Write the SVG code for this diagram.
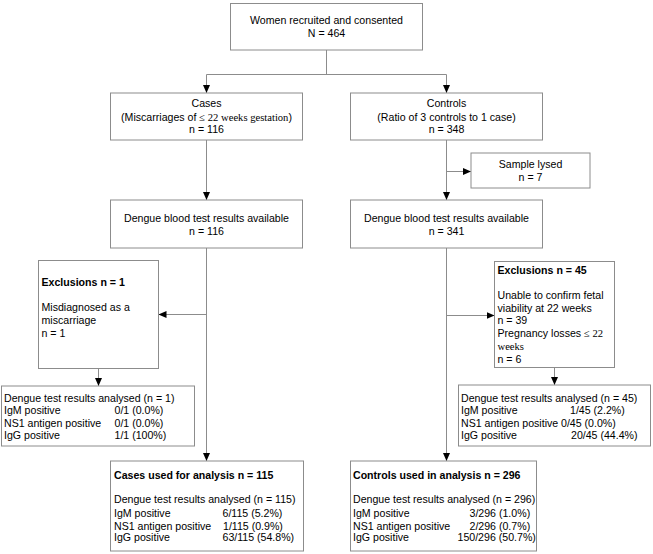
<svg xmlns="http://www.w3.org/2000/svg" width="653" height="554" viewBox="0 0 653 554">
<defs>
<style>
.box{fill:#fff;stroke:#8c8c8c;stroke-width:1}
.ln{fill:none;stroke:#8c8c8c;stroke-width:1}
.t{font-family:"Liberation Sans",Arial,sans-serif;font-size:10.6px;fill:#000}
.c{text-anchor:middle}
.b{font-weight:bold}
.s{font-family:"Liberation Serif","Times New Roman",serif}
</style>
<marker id="ah" markerUnits="userSpaceOnUse" viewBox="0 0 8 7" refX="8" refY="3.5" markerWidth="8" markerHeight="7" orient="auto">
<path d="M0,0 L8,3.5 L0,7 z" fill="#000"/>
</marker>
</defs>
<rect width="653" height="554" fill="#fff"/>
<g id="connectors">
<path class="ln" d="M326.5,50 V74.5 M206.5,74.5 H446.5"/>
<path class="ln" d="M206.5,74.5 V93" marker-end="url(#ah)"/>
<path class="ln" d="M446.5,74.5 V93" marker-end="url(#ah)"/>
<path class="ln" d="M206.5,140 V200" marker-end="url(#ah)"/>
<path class="ln" d="M446.5,140 V200" marker-end="url(#ah)"/>
<path class="ln" d="M446.5,171.5 H471" marker-end="url(#ah)"/>
<path class="ln" d="M206.5,248 V461" marker-end="url(#ah)"/>
<path class="ln" d="M206.5,314.5 H158.5" marker-end="url(#ah)"/>
<path class="ln" d="M98.5,368.5 V386" marker-end="url(#ah)"/>
<path class="ln" d="M446.5,248 V461" marker-end="url(#ah)"/>
<path class="ln" d="M446.5,315.5 H494.5" marker-end="url(#ah)"/>
<path class="ln" d="M554.5,367.5 V385" marker-end="url(#ah)"/>
</g>
<g id="women">
<rect class="box" x="230.5" y="3.5" width="192" height="46.5"/>
<text class="t c" x="326.5" y="24">Women recruited and consented</text>
<text class="t c" x="326.5" y="37">N = 464</text>
</g>
<g id="cases">
<rect class="box" x="110.5" y="93" width="192" height="47"/>
<text class="t c" x="206.5" y="107">Cases</text>
<text class="t c" x="206.5" y="120.5">(Miscarriages of <tspan class="s">≤ 22 weeks gestation</tspan>)</text>
<text class="t c" x="206.5" y="133">n = 116</text>
</g>
<g id="controls">
<rect class="box" x="350.5" y="93" width="192" height="47"/>
<text class="t c" x="446.5" y="107">Controls</text>
<text class="t c" x="446.5" y="120.5">(Ratio of 3 controls to 1 case)</text>
<text class="t c" x="446.5" y="133">n = 348</text>
</g>
<g id="lysed">
<rect class="box" x="471" y="153" width="119" height="35"/>
<text class="t c" x="530.5" y="168">Sample lysed</text>
<text class="t c" x="530.5" y="181">n = 7</text>
</g>
<g id="dengue-cases">
<rect class="box" x="110.5" y="200" width="192" height="48"/>
<text class="t c" x="206.5" y="221.5">Dengue blood test results available</text>
<text class="t c" x="206.5" y="234.5">n = 116</text>
</g>
<g id="dengue-controls">
<rect class="box" x="350.5" y="200" width="192" height="48"/>
<text class="t c" x="446.5" y="221.5">Dengue blood test results available</text>
<text class="t c" x="446.5" y="234.5">n = 341</text>
</g>
<g id="excl-cases">
<rect class="box" x="38.5" y="260.5" width="120" height="108"/>
<text class="t b" x="41.5" y="285.5">Exclusions n = 1</text>
<text class="t" x="41.5" y="311">Misdiagnosed as a</text>
<text class="t" x="41.5" y="324">miscarriage</text>
<text class="t" x="41.5" y="337">n = 1</text>
</g>
<g id="excl-controls">
<rect class="box" x="494.5" y="261.5" width="120" height="106"/>
<text class="t b" x="497.5" y="273.5">Exclusions n = 45</text>
<text class="t" x="497.5" y="299">Unable to confirm fetal</text>
<text class="t" x="497.5" y="311.5">viability at 22 weeks</text>
<text class="t" x="497.5" y="324">n = 39</text>
<text class="t" x="497.5" y="337">Pregnancy losses <tspan class="s">≤ 22</tspan></text>
<text class="t s" x="497.5" y="350">weeks</text>
<text class="t" x="497.5" y="362.5">n = 6</text>
</g>
<g id="analysed-excl-cases">
<rect class="box" x="1.5" y="386" width="193" height="60"/>
<text class="t" x="4" y="401.5">Dengue test results analysed (n = 1)</text>
<text class="t" x="4" y="413.5">IgM positive</text>
<text class="t" x="114.5" y="413.5">0/1 (0.0%)</text>
<text class="t" x="4" y="426.5">NS1 antigen positive</text>
<text class="t" x="114.5" y="426.5">0/1 (0.0%)</text>
<text class="t" x="4" y="438.5">IgG positive</text>
<text class="t" x="114.5" y="438.5">1/1 (100%)</text>
</g>
<g id="analysed-excl-controls">
<rect class="box" x="458.5" y="385" width="192" height="61"/>
<text class="t" x="461" y="401.5">Dengue test results analysed (n = 45)</text>
<text class="t" x="461" y="413.5">IgM positive</text>
<text class="t" x="570" y="413.5">1/45 (2.2%)</text>
<text class="t" x="461" y="426.5">NS1 antigen positive</text>
<text class="t" x="561" y="426.5">0/45 (0.0%)</text>
<text class="t" x="461" y="438.5">IgG positive</text>
<text class="t" x="571" y="438.5">20/45 (44.4%)</text>
</g>
<g id="cases-used">
<rect class="box" x="110.5" y="461" width="193" height="90"/>
<text class="t b" x="114" y="478.5">Cases used for analysis n = 115</text>
<text class="t" x="114" y="503">Dengue test results analysed (n = 115)</text>
<text class="t" x="114" y="516.5">IgM positive</text>
<text class="t" x="222.5" y="516.5">6/115 (5.2%)</text>
<text class="t" x="114" y="529.5">NS1 antigen positive</text>
<text class="t" x="223" y="529.5">1/115 (0.9%)</text>
<text class="t" x="114" y="541">IgG positive</text>
<text class="t" x="222.5" y="541">63/115 (54.8%)</text>
</g>
<g id="controls-used">
<rect class="box" x="350.5" y="461" width="186" height="90"/>
<text class="t b" x="353" y="478.5">Controls used in analysis n = 296</text>
<text class="t" x="353" y="503">Dengue test results analysed (n = 296)</text>
<text class="t" x="353" y="516.5">IgM positive</text>
<text class="t" x="469.5" y="516.5">3/296 (1.0%)</text>
<text class="t" x="353" y="529.5">NS1 antigen positive</text>
<text class="t" x="469.5" y="529.5">2/296 (0.7%)</text>
<text class="t" x="353" y="541">IgG positive</text>
<text class="t" x="457.5" y="541">150/296 (50.7%)</text>
</g>
</svg>
